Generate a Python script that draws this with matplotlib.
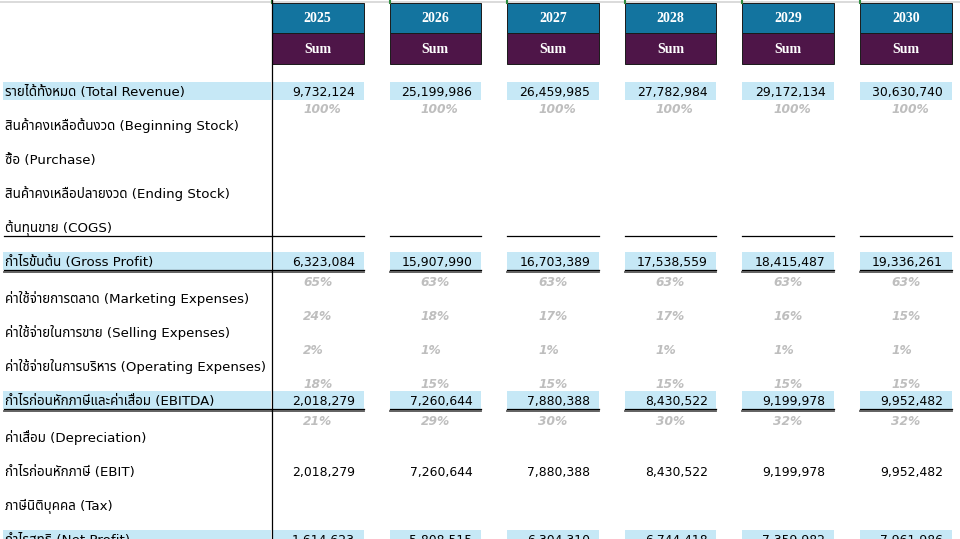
import matplotlib
matplotlib.use("Agg")
import matplotlib.pyplot as plt
from matplotlib import font_manager
from matplotlib.patches import Rectangle

# ---- data ----
years = ["2025", "2026", "2027", "2028", "2029", "2030"]
row_labels = [
    "รายได้ทั้งหมด (Total Revenue)",
    "สินค้าคงเหลือต้นงวด (Beginning Stock)",
    "ซื้อ (Purchase)",
    "สินค้าคงเหลือปลายงวด (Ending Stock)",
    "ต้นทุนขาย (COGS)",
    "กำไรขั้นต้น (Gross Profit)",
    "ค่าใช้จ่ายการตลาด (Marketing Expenses)",
    "ค่าใช้จ่ายในการขาย (Selling Expenses)",
    "ค่าใช้จ่ายในการบริหาร (Operating Expenses)",
    "กำไรก่อนหักภาษีและค่าเสื่อม (EBITDA)",
    "ค่าเสื่อม (Depreciation)",
    "กำไรก่อนหักภาษี (EBIT)",
    "ภาษีนิติบุคคล (Tax)",
    "กำไรสุทธิ (Net Profit)",
]
revenue = [9732124, 25199986, 26459985, 27782984, 29172134, 30630740]
gross_profit = [6323084, 15907990, 16703389, 17538559, 18415487, 19336261]
ebitda = [2018279, 7260644, 7880388, 8430522, 9199978, 9952482]
ebit = [2018279, 7260644, 7880388, 8430522, 9199978, 9952482]
net_profit = [1614623, 5808515, 6304310, 6744418, 7359982, 7961986]

revenue_pct = [100, 100, 100, 100, 100, 100]
gross_pct = [65, 63, 63, 63, 63, 63]
marketing_pct = [24, 18, 17, 17, 16, 15]
selling_pct = [2, 1, 1, 1, 1, 1]
operating_pct = [18, 15, 15, 15, 15, 15]
ebitda_pct = [21, 29, 30, 30, 32, 32]

# row index -> values, percentages shown under the row
values = {0: revenue, 5: gross_profit, 9: ebitda, 11: ebit, 13: net_profit}
percents = {0: revenue_pct, 5: gross_pct, 6: marketing_pct, 7: selling_pct,
            8: operating_pct, 9: ebitda_pct}
highlight_rows = [0, 5, 9, 13]
single_line_rows = [4]
double_line_rows = [5, 9, 13]


def find_thai_font():
    try:
        from fontTools.ttLib import TTFont
    except Exception:
        return None
    found = []
    for f in font_manager.fontManager.ttflist:
        try:
            tt = TTFont(f.fname, fontNumber=0, lazy=True)
            cmap = tt.getBestCmap()
            if cmap and 0x0E01 in cmap and 0x0E33 in cmap:
                found.append(f.name)
        except Exception:
            pass
    prefer = ["Tahoma", "Noto Sans Thai", "Noto Sans Thai Looped", "Loma",
              "Garuda", "Sarabun", "Waree", "Umpush", "Norasi", "Kinnari"]
    for p in prefer:
        if p in found:
            return p
    return found[0] if found else None


thai = find_thai_font()
families = ["DejaVu Sans"] + ([thai] if thai else [])
plt.rcParams["font.family"] = families

BLUE = "#C6E8F6"
TEAL = "#13749F"
PURPLE = "#4E1548"
GRAY = "#BEBEBE"

fig = plt.figure(figsize=(9.6, 5.39), dpi=100, facecolor="white")
ax = fig.add_axes([0, 0, 1, 1])
ax.set_xlim(0, 960)
ax.set_ylim(539, 0)
ax.axis("off")

# layout
col_w = 91.5
col_step = 117.6
col_left = [272 + i * col_step for i in range(len(years))]
row_h = 34
y0 = 91


def row_y(i):
    extra = sum(3 for r in double_line_rows if r < i)
    return y0 + i * row_h + extra


# sheet top gridline and selection marks
ax.plot([0, 960], [1.5, 1.5], color="#D4D4D4", lw=1.2)
for xl in col_left:
    ax.plot([xl, xl], [0, 3], color="#2E8B3E", lw=1.5)

# header cells
for xl, yr in zip(col_left, years):
    ax.add_patch(Rectangle((xl, 3), col_w, 30, facecolor=TEAL,
                           edgecolor="#1a1a1a", lw=0.7))
    ax.add_patch(Rectangle((xl, 33), col_w, 31, facecolor=PURPLE,
                           edgecolor="#1a1a1a", lw=0.7))
    ax.text(xl + col_w / 2, 18.5, yr, color="white", fontsize=10,
            fontweight="bold", family="Liberation Serif", ha="center", va="center")
    ax.text(xl + col_w / 2, 49.5, "Sum", color="white", fontsize=10,
            fontweight="bold", family="Liberation Serif", ha="center", va="center")

# highlight bands
for r in highlight_rows:
    y = row_y(r)
    ax.add_patch(Rectangle((3, y - 9), 268, 17.5, facecolor=BLUE, lw=0))
    for xl in col_left:
        ax.add_patch(Rectangle((xl, y - 9), col_w, 17.5, facecolor=BLUE, lw=0))

# underlines
for r in single_line_rows:
    y = row_y(r) + 8.5
    ax.plot([4, 272], [y, y], color="black", lw=0.9)
    for xl in col_left:
        ax.plot([xl, xl + col_w], [y, y], color="black", lw=0.9)
for r in double_line_rows:
    y = row_y(r) + 9
    segs = [(4, 272)] + [(xl, xl + col_w) for xl in col_left]
    for a, b in segs:
        ax.plot([a, b], [y, y], color="black", lw=0.9)
        ax.plot([a, b], [y + 2.3, y + 2.3], color="#555555", lw=1.3)

# vertical divider
ax.plot([272, 272], [0, 539], color="black", lw=0.9)

# labels, values, percentages
for i, lab in enumerate(row_labels):
    y = row_y(i)
    ax.text(5, y + 5, lab, fontsize=9.6, ha="left", va="baseline", color="black")
    if i in values:
        for xl, v in zip(col_left, values[i]):
            ax.text(xl + col_w - 8.5, y + 5, f"{v:,}", fontsize=8.9,
                    ha="right", va="baseline", color="black")
    if i in percents:
        py = row_y(i + 1) - 17
        for xl, p in zip(col_left, percents[i]):
            ax.text(xl + 31, py + 5, f"{p}%", fontsize=8.8, fontweight="bold",
                    fontstyle="italic", ha="left", va="baseline", color=GRAY)

fig.savefig("out.png", dpi=100, facecolor="white")
